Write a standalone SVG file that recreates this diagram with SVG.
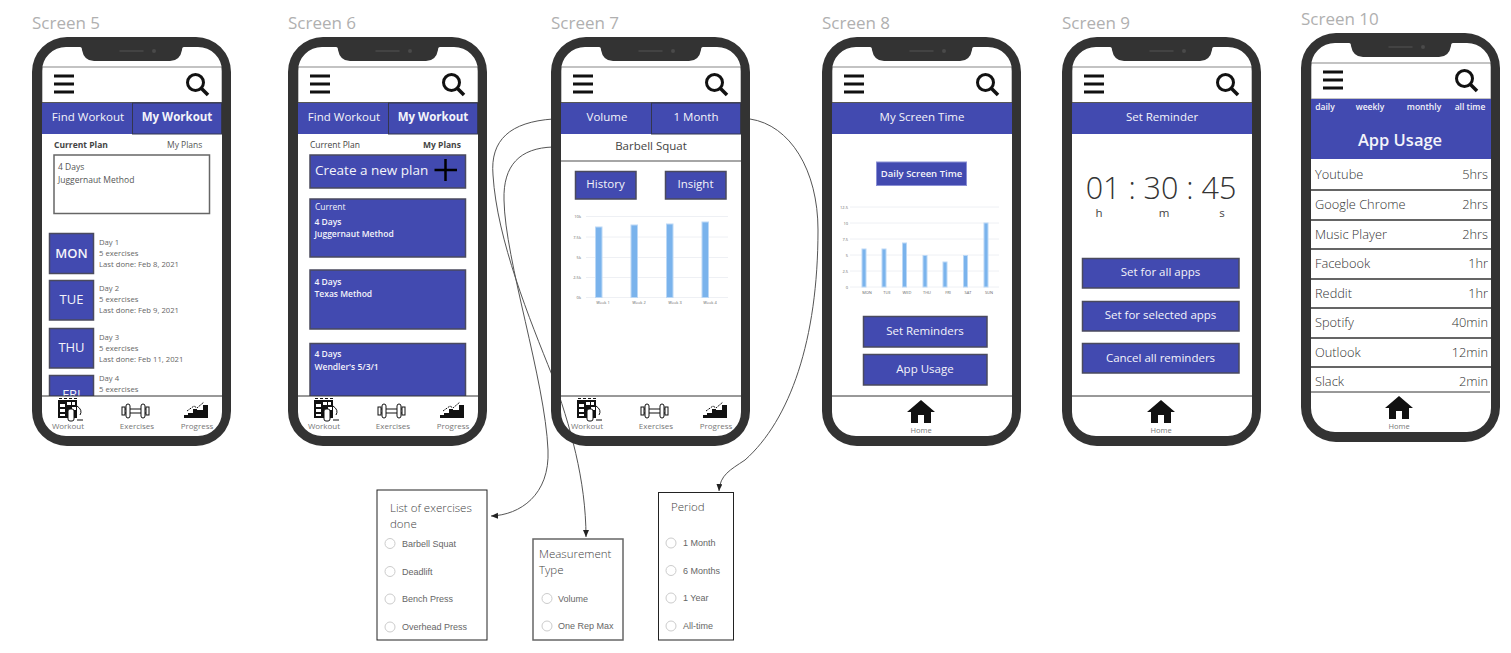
<svg xmlns="http://www.w3.org/2000/svg" width="1511" height="653" viewBox="0 0 1511 653">
<style>
text{font-family:"Open Sans","Noto Sans",sans-serif}
.title{font-size:17px;fill:#b0b0b0}
.tab{fill:#424AB0;stroke:none}
.act{fill:#424AB0;stroke:#33364f;stroke-width:1}
.btn{fill:#424AB0;stroke:#4a4a5e;stroke-width:1.5}
.w{fill:#f4f4fa;text-anchor:middle}
.tabt{font-size:11.5px}
.b{font-weight:700}
.sm{font-size:8.5px;fill:#555}
.day{font-size:7.7px;fill:#666}
.cw{font-size:8.5px;fill:#f4f4fa;font-weight:600}
.nl{font-size:8px;fill:#777;text-anchor:middle}
.rows{font-size:12.8px;fill:#333;font-weight:300}
.grid{stroke:#eef0f4;stroke-width:1}
.bar{fill:#7AB3EC;stroke:#BBD8F6;stroke-width:1}
.tiny{font-size:4px;fill:#666;text-anchor:middle}
.tr{font-size:4px;fill:#666;text-anchor:end}
.pop{fill:#fff;stroke:#222;stroke-width:1}
.pt{font-size:11.5px;fill:#444;font-weight:300}
.rad{fill:#fff;stroke:#ccc;stroke-width:1}
.rl{font-family:"Liberation Sans",Arial,sans-serif;font-size:9px;fill:#666}
.conn{fill:none;stroke:#555;stroke-width:1;marker-end:url(#arr)}
.sep{stroke:#333;stroke-width:1.5}
</style>
<defs>
<marker id="arr" markerUnits="userSpaceOnUse" markerWidth="8" markerHeight="8" refX="7" refY="3" orient="auto"><path d="M0 0L7 3L0 6Z" fill="#222"/></marker>
<g id="frame">
<path fill="#333" fill-rule="evenodd" d="M35 0H164A35 35 0 0 1 199 35V374A35 35 0 0 1 164 409H35A35 35 0 0 1 0 374V35A35 35 0 0 1 35 0ZM34 10A24 24 0 0 0 10 34V375A24 24 0 0 0 34 399H166A24 24 0 0 0 190 375V34A24 24 0 0 0 166 10H152Q150 10 150 13Q148 24 138 24H62Q52 24 50 13Q50 10 48 10Z"/>
<path d="M88 14H111" stroke="#4a4a4a" stroke-width="1.500" stroke-linecap="round"/><circle cx="122" cy="14" r="2" fill="#4a4a4a"/>
</g>
<g id="hdr">
<rect x="10" y="30" width="180" height="36" fill="#fff" stroke="#888"/>
<path d="M22 39H42M22 47H42M22 55H42" stroke="#111" stroke-width="3"/>
<circle cx="163.500" cy="45.500" r="8" fill="none" stroke="#111" stroke-width="3"/><path d="M169 51L176 58" stroke="#111" stroke-width="3.500"/>
</g>
<g id="navw">
<rect x="10" y="359" width="180" height="40" fill="#fff"/><path d="M10 359H190" stroke="#333"/>
<g fill="#111">
<path d="M27 361.500H46" stroke="#111" stroke-dasharray="3 2" stroke-width="1"/>
<rect x="26" y="363" width="19" height="18"/>
<path d="M28 367h5v3h-5zM28 372h5v3h-5zM28 377h5v2h-5zM35 365h4v3h-4zM40 370h4v3h-4zM40 365h3v3h-3z" fill="#fff"/>
<rect x="36" y="372" width="6" height="12" rx="2" fill="#fff" stroke="#111"/>
<path d="M45 369Q51 373 48 378M45 383H51" fill="none" stroke="#111"/>
<path d="M92 372H115M92 376H115" stroke="#111"/>
<rect x="94" y="367" width="4" height="14" rx="2" fill="#fff" stroke="#111"/><rect x="109" y="367" width="4" height="14" rx="2" fill="#fff" stroke="#111"/>
<rect x="90" y="370" width="3" height="8" fill="#fff" stroke="#111"/><rect x="114" y="370" width="3" height="8" fill="#fff" stroke="#111"/>
<path d="M152 380H176V368H171V373H165V372H161V376H156V378H152Z"/><path d="M152 380.500H176" stroke="#111"/>
<path d="M155 374L162 369L165 371L172 365" fill="none" stroke="#111" stroke-dasharray="2 1"/>
</g>
<text x="36" y="392" class="nl">Workout</text><text x="105" y="392" class="nl">Exercises</text><text x="165" y="392" class="nl">Progress</text>
</g>
<g id="navh">
<rect x="10" y="359" width="180" height="40" fill="#fff"/><path d="M10 359H190" stroke="#333"/>
<path d="M99 363L113 375H109V386H102V378H96V386H89V375H85Z" fill="#111"/>
<text x="99" y="396" class="nl" style="font-size:7.500px">Home</text>
</g>
<g id="tabs">
<path d="M10 66H190" stroke="#333" stroke-width="1.500"/>
<rect x="10" y="66" width="90" height="31" class="tab"/><rect x="100.500" y="66" width="89" height="31" class="act"/>
</g>
</defs>
<rect width="1511" height="653" fill="#fff"/>

<g id="screen-5">
<text x="32" y="29" class="title">Screen 5</text>
<use href="#hdr" x="32" y="37"/><use href="#tabs" x="32" y="37"/>
<text x="88" y="121" class="w tabt">Find Workout</text><text x="177" y="121" class="w tabt b">My Workout</text>
<text x="54" y="148" class="sm b" style="fill:#444">Current Plan</text><text x="167" y="148" class="sm">My Plans</text>
<rect x="54" y="155" width="155.500" height="58.500" fill="#fff" stroke="#666" stroke-width="1.500"/>
<text x="58" y="170" class="sm">4 Days</text><text x="58" y="183" class="sm">Juggernaut Method</text>
<rect x="49.500" y="233.500" width="44" height="40" class="btn"/><text x="71.500" y="258" class="w" style="font-size:13px;font-weight:600">MON</text>
<rect x="49.500" y="280.500" width="44" height="39.500" class="btn"/><text x="71.500" y="304" class="w" style="font-size:13px">TUE</text>
<rect x="49.500" y="328.500" width="44" height="39.500" class="btn"/><text x="71.500" y="352" class="w" style="font-size:13px">THU</text>
<rect x="49.500" y="375.500" width="44" height="40" class="btn"/><text x="71.500" y="399" class="w" style="font-size:13px">FRI</text>
<text x="99" y="245" class="day">Day 1</text><text x="99" y="256" class="day">5 exercises</text><text x="99" y="267" class="day">Last done: Feb 8, 2021</text>
<text x="99" y="291" class="day">Day 2</text><text x="99" y="302" class="day">5 exercises</text><text x="99" y="313" class="day">Last done: Feb 9, 2021</text>
<text x="99" y="340" class="day">Day 3</text><text x="99" y="351" class="day">5 exercises</text><text x="99" y="362" class="day">Last done: Feb 11, 2021</text>
<text x="99" y="381" class="day">Day 4</text><text x="99" y="392" class="day">5 exercises</text>
<use href="#navw" x="32" y="37"/><use href="#frame" x="32" y="37"/>
</g>

<g id="screen-6">
<text x="288" y="29" class="title">Screen 6</text>
<use href="#hdr" x="288" y="37"/><use href="#tabs" x="288" y="37"/>
<text x="344" y="121" class="w tabt">Find Workout</text><text x="433" y="121" class="w tabt b">My Workout</text>
<text x="310" y="148" class="sm" style="fill:#444">Current Plan</text><text x="423" y="148" class="sm b" style="fill:#444">My Plans</text>
<rect x="310" y="155" width="155.500" height="33" class="btn"/>
<text x="315" y="175" style="font-size:13.500px;fill:#f4f4fa">Create a new plan</text>
<path d="M434.500 170H457M445.500 159V181" stroke="#000" stroke-width="2.500"/>
<rect x="310" y="199" width="155.500" height="58" class="btn"/>
<text x="315" y="210" class="cw" style="font-weight:400">Current</text><text x="314.500" y="225" class="cw">4 Days</text><text x="314.500" y="237" class="cw">Juggernaut Method</text>
<rect x="310" y="270" width="155.500" height="59" class="btn"/>
<text x="314.500" y="285" class="cw">4 Days</text><text x="314.500" y="297" class="cw">Texas Method</text>
<rect x="310" y="343.500" width="155.500" height="70" class="btn"/>
<text x="314.500" y="357" class="cw">4 Days</text><text x="314.500" y="370" class="cw">Wendler's 5/3/1</text>
<use href="#navw" x="288" y="37"/><use href="#frame" x="288" y="37"/>
</g>

<g id="screen-7">
<text x="551" y="29" class="title">Screen 7</text>
<use href="#hdr" x="551" y="37"/><use href="#tabs" x="551" y="37"/>
<text x="607" y="121" class="w tabt">Volume</text><text x="696" y="121" class="w tabt">1 Month</text>
<text x="651" y="150" style="font-size:11.500px;fill:#444;text-anchor:middle">Barbell Squat</text>
<path d="M561 161H741" stroke="#888" stroke-width="1.500"/>
<rect x="575.500" y="171.500" width="60.500" height="27.500" class="btn"/><text x="605.500" y="188" class="w tabt">History</text>
<rect x="665.500" y="171.500" width="60.500" height="27.500" class="btn"/><text x="695.500" y="188" class="w tabt">Insight</text>
<path class="grid" d="M586 216.500H728M586 237H728M586 257.500H728M586 277.500H728M586 297.500H728"/>
<rect x="595.500" y="227" width="6.500" height="70.500" class="bar"/><rect x="631" y="225" width="6.500" height="72.500" class="bar"/><rect x="666.500" y="224" width="6.500" height="73.500" class="bar"/><rect x="702" y="222" width="6.500" height="75.500" class="bar"/>
<text x="581" y="218" class="tr">10k</text><text x="581" y="238.500" class="tr">7.5k</text><text x="581" y="259" class="tr">5k</text><text x="581" y="279" class="tr">2.5k</text><text x="581" y="299" class="tr">0k</text>
<text x="603" y="304" class="tiny">Week 1</text><text x="639" y="304" class="tiny">Week 2</text><text x="675" y="304" class="tiny">Week 3</text><text x="710" y="304" class="tiny">Week 4</text>
<use href="#navw" x="551" y="37"/>
</g>

<g id="connectors">
<path class="conn" d="M553 119C510 122 490 140 493 175C497 240 530 320 552 375C570 425 586 480 586 537"/>
<path class="conn" d="M553 147C520 148 503 165 504 200C505 260 545 380 548 450C550 495 520 515 491 516"/>
<path class="conn" d="M750 119C790 125 818 170 818 230C818 340 790 420 745 460C730 470 720 475 719 491"/>
</g>

<g id="screen-7-frame"><use href="#frame" x="551" y="37"/></g>

<g id="screen-8">
<text x="822" y="29" class="title">Screen 8</text>
<use href="#hdr" x="822" y="37"/>
<path d="M832 103H1012" stroke="#333" stroke-width="1.500"/>
<rect x="832" y="103" width="180" height="31" class="tab"/><text x="922" y="121" class="w tabt">My Screen Time</text>
<rect x="876.500" y="162" width="90" height="23.500" fill="#424AB0" stroke="#8a8fd4"/><text x="921.500" y="177" class="w" style="font-size:9.500px;font-weight:600">Daily Screen Time</text>
<path class="grid" d="M850 207H999M850 223H999M850 239H999M850 255H999M850 271H999M850 287H999"/>
<rect x="862" y="249" width="4" height="38" class="bar"/><rect x="882" y="249" width="4" height="38" class="bar"/><rect x="902.500" y="243" width="4" height="44" class="bar"/><rect x="923" y="255.500" width="4" height="31.500" class="bar"/><rect x="943" y="262" width="4" height="25" class="bar"/><rect x="963.500" y="255.500" width="4" height="31.500" class="bar"/><rect x="984" y="223" width="4" height="64" class="bar"/>
<text x="848" y="208.500" class="tr">12.5</text><text x="848" y="224.500" class="tr">10</text><text x="848" y="240.500" class="tr">7.5</text><text x="848" y="256.500" class="tr">5</text><text x="848" y="272.500" class="tr">2.5</text><text x="848" y="288.500" class="tr">0</text>
<text x="867" y="293.500" class="tiny">MON</text><text x="887" y="293.500" class="tiny">TUE</text><text x="907" y="293.500" class="tiny">WED</text><text x="927" y="293.500" class="tiny">THU</text><text x="948" y="293.500" class="tiny">FRI</text><text x="968" y="293.500" class="tiny">SAT</text><text x="989" y="293.500" class="tiny">SUN</text>
<rect x="863.500" y="316.500" width="123.500" height="30.500" class="btn"/><text x="925" y="335" class="w tabt">Set Reminders</text>
<rect x="863.500" y="354.500" width="123.500" height="30.500" class="btn"/><text x="925" y="373" class="w tabt">App Usage</text>
<use href="#navh" x="822" y="37"/><use href="#frame" x="822" y="37"/>
</g>

<g id="screen-9">
<text x="1062" y="29" class="title">Screen 9</text>
<use href="#hdr" x="1062" y="37"/>
<path d="M1072 103H1252" stroke="#333" stroke-width="1.500"/>
<rect x="1072" y="103" width="180" height="31" class="tab"/><text x="1162" y="121" class="w tabt">Set Reminder</text>
<text x="1161" y="199" style="font-size:30.500px;fill:#333;text-anchor:middle;font-weight:300">01 : 30 : 45</text>
<text x="1099" y="217" class="tabt" style="fill:#444;text-anchor:middle">h</text><text x="1164" y="217" class="tabt" style="fill:#444;text-anchor:middle">m</text><text x="1222" y="217" class="tabt" style="fill:#444;text-anchor:middle">s</text>
<rect x="1082.500" y="258.500" width="156.500" height="29.500" class="btn"/><text x="1160.500" y="276" class="w tabt">Set for all apps</text>
<rect x="1082.500" y="301.500" width="156.500" height="29.500" class="btn"/><text x="1160.500" y="319" class="w tabt">Set for selected apps</text>
<rect x="1082.500" y="343.500" width="156.500" height="29.500" class="btn"/><text x="1160.500" y="362" class="w tabt">Cancel all reminders</text>
<use href="#navh" x="1062" y="37"/><use href="#frame" x="1062" y="37"/>
</g>

<g id="screen-10">
<text x="1301" y="25" class="title">Screen 10</text>
<use href="#hdr" x="1301" y="33"/>
<rect x="1311" y="99" width="180" height="60" class="tab"/>
<text x="1325" y="110" class="w cw">daily</text><text x="1370" y="110" class="w cw">weekly</text><text x="1424" y="110" class="w cw">monthly</text><text x="1470" y="110" class="w cw">all time</text>
<text x="1400" y="146" class="w" style="font-size:16.500px;font-weight:600">App Usage</text>
<path class="sep" d="M1311 190H1491M1311 220H1491M1311 249H1491M1311 279H1491M1311 308H1491M1311 338H1491M1311 367H1491"/>
<text x="1315" y="179" class="rows">Youtube</text><text x="1488" y="179" class="rows" text-anchor="end">5hrs</text>
<text x="1315" y="209" class="rows">Google Chrome</text><text x="1488" y="209" class="rows" text-anchor="end">2hrs</text>
<text x="1315" y="238.500" class="rows">Music Player</text><text x="1488" y="238.500" class="rows" text-anchor="end">2hrs</text>
<text x="1315" y="268" class="rows">Facebook</text><text x="1488" y="268" class="rows" text-anchor="end">1hr</text>
<text x="1315" y="297.500" class="rows">Reddit</text><text x="1488" y="297.500" class="rows" text-anchor="end">1hr</text>
<text x="1315" y="327" class="rows">Spotify</text><text x="1488" y="327" class="rows" text-anchor="end">40min</text>
<text x="1315" y="356.500" class="rows">Outlook</text><text x="1488" y="356.500" class="rows" text-anchor="end">12min</text>
<text x="1315" y="386" class="rows">Slack</text><text x="1488" y="386" class="rows" text-anchor="end">2min</text>
<use href="#navh" x="1300" y="33"/><use href="#frame" x="1301" y="33"/>
</g>

<g id="list-of-exercises">
<rect x="377" y="490" width="110" height="150" class="pop"/>
<text x="390" y="512" class="pt">List of exercises</text><text x="390" y="528" class="pt">done</text>
<circle cx="390" cy="543.500" r="5" class="rad"/><text x="402" y="546.500" class="rl">Barbell Squat</text>
<circle cx="390" cy="571.500" r="5" class="rad"/><text x="402" y="574.500" class="rl">Deadlift</text>
<circle cx="390" cy="599" r="5" class="rad"/><text x="402" y="602" class="rl">Bench Press</text>
<circle cx="390" cy="627" r="5" class="rad"/><text x="402" y="630" class="rl">Overhead Press</text>
</g>
<g id="measurement-type">
<rect x="533" y="539" width="90" height="101" class="pop" style="stroke:#666;stroke-width:1.500"/>
<text x="539" y="558" class="pt">Measurement</text><text x="539" y="574" class="pt">Type</text>
<circle cx="547" cy="598.500" r="5" class="rad"/><text x="558" y="601.500" class="rl">Volume</text>
<circle cx="547" cy="626" r="5" class="rad"/><text x="558" y="629" class="rl">One Rep Max</text>
</g>
<g id="period">
<rect x="658.500" y="492.500" width="75" height="147.500" class="pop"/>
<text x="671" y="511" class="pt">Period</text>
<circle cx="671" cy="543" r="5" class="rad"/><text x="683" y="546" class="rl">1 Month</text>
<circle cx="671" cy="570.500" r="5" class="rad"/><text x="683" y="573.500" class="rl">6 Months</text>
<circle cx="671" cy="598" r="5" class="rad"/><text x="683" y="601" class="rl">1 Year</text>
<circle cx="671" cy="626" r="5" class="rad"/><text x="683" y="629" class="rl">All-time</text>
</g>
</svg>
